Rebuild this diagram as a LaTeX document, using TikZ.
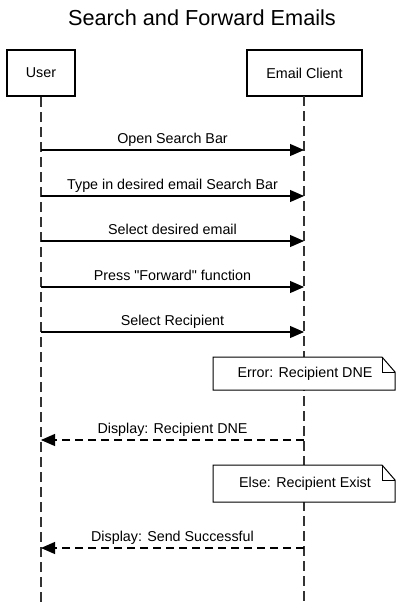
\documentclass[tikz,border=0pt]{standalone}
\usepackage{fontspec}
\setmainfont{Liberation Sans}[Ligatures=TeXOff]
\usetikzlibrary{arrows.meta}
\begin{document}
\begin{tikzpicture}[x=1pt,y=-1pt,
  actor/.style={draw=black,line width=2.6pt,fill=white,inner sep=0pt,font=\fontsize{14.3}{16}\selectfont},
  lifeline/.style={draw=black!80,line width=1.3pt,dash pattern=on 10pt off 5pt},
  msg/.style={draw=black,line width=1.1pt,-{Triangle[length=14pt,width=12pt]}},
  ret/.style={draw=black,line width=1.1pt,dash pattern=on 8pt off 5pt,-{Triangle[length=14pt,width=12pt]}},
  lbl/.style={font=\fontsize{14.3}{16}\selectfont,inner sep=0pt,anchor=base},
  notebox/.style={draw=black,line width=1pt,fill=white},
  notetxt/.style={font=\fontsize{14.3}{16}\selectfont,inner sep=0pt}]
\useasboundingbox[fill=white] (0,0) rectangle (404,605);
\node[font=\fontsize{21.7}{24}\selectfont,inner sep=0pt] (title) at (202,18) {Search and Forward Emails};
% participants
\node[actor,minimum width=68pt,minimum height=46pt] (user) at (41,73) {User};
\node[actor,minimum width=115pt,minimum height=46pt] (client) at (304.5,73) {Email Client};
\coordinate (uend) at (41,605);
\coordinate (cend) at (304,605);
\draw[lifeline] (user.south) -- (uend);
\draw[lifeline] (304,96) -- (cend);
% messages
\foreach \n/\y in {1/150,2/196,3/241,4/287,5/332,6/440,7/548}{
  \coordinate (u\n) at (41,\y);
  \coordinate (c\n) at (304,\y);
}
\draw[msg] (u1) -- (c1);
\node[lbl] (l1) at (172.5,143) {Open Search Bar};
\draw[msg] (u2) -- (c2);
\node[lbl] (l2) at (172.5,189) {Type in desired email Search Bar};
\draw[msg] (u3) -- (c3);
\node[lbl] (l3) at (172.5,234) {Select desired email};
\draw[msg] (u4) -- (c4);
\node[lbl] (l4) at (172.5,280) {Press "Forward" function};
\draw[msg] (u5) -- (c5);
\node[lbl] (l5) at (172.5,325) {Select Recipient};
% note 1
\draw[notebox] (213,357) -- (382,357) -- (395,372) -- (395,390) -- (213,390) -- cycle;
\draw[line width=1pt] (382,357) -- (382,372) -- (395,372);
\node[notetxt] (n1) at (305,374) {Error: Recipient DNE};
\draw[ret] (c6) -- (u6);
\node[lbl] (l6) at (172.5,433) {Display: Recipient DNE};
% note 2
\draw[notebox] (213,465) -- (382,465) -- (395,480) -- (395,502) -- (213,502) -- cycle;
\draw[line width=1pt] (382,465) -- (382,480) -- (395,480);
\node[notetxt] (n2) at (305,483.5) {Else: Recipient Exist};
\draw[ret] (c7) -- (u7);
\node[lbl] (l7) at (172.5,541) {Display: Send Successful};
\end{tikzpicture}
\end{document}
